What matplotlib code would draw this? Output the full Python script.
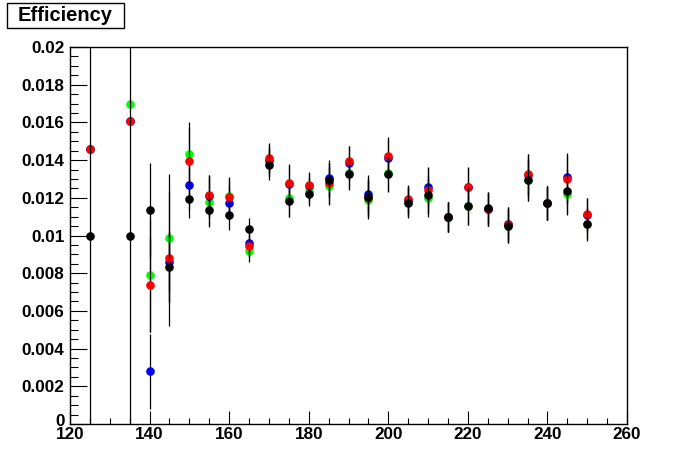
import matplotlib.pyplot as plt
import matplotlib.patches as patches
from matplotlib.ticker import MultipleLocator, FuncFormatter

# Data (mass points and efficiencies for four samples)
x = [125, 135, 140, 145, 150, 155, 160, 165, 170, 175, 180, 185, 190,
     195, 200, 205, 210, 215, 220, 225, 230, 235, 240, 245, 250]

eff_green = [0.0146, 0.0170, 0.0079, 0.00985, 0.0143, 0.0118, 0.0121, 0.0092,
             0.0139, 0.0120, 0.01236, 0.01263, 0.01333, 0.01188, 0.01333, 0.0118,
             0.0120, 0.0110, 0.01155, 0.01138, 0.0105, 0.01294, 0.0117, 0.0122, 0.0106]
err_green = [0, 0, 0.0030, 0.0034, 0.0017, 0.0013, 0.0010, 0.0006,
             0.0008, 0.0010, 0.0007, 0.0010, 0.0009, 0.0010, 0.0010, 0.0008,
             0.0010, 0.0008, 0.0010, 0.0009, 0.0009, 0.0011, 0.0009, 0.0011, 0.0009]

eff_blue = [0.0146, 0.0161, 0.0028, 0.0086, 0.01266, 0.0121, 0.01171, 0.00962,
            0.0140, 0.01272, 0.0126, 0.01303, 0.01386, 0.01222, 0.01411, 0.0119,
            0.01259, 0.0110, 0.01256, 0.0114, 0.0106, 0.0132, 0.0117, 0.0131, 0.0111]
err_blue = [0, 0, 0.0020, 0.00155, 0.0013, 0.0011, 0.0009, 0.0007,
            0.0008, 0.0010, 0.0007, 0.0010, 0.0009, 0.0010, 0.0010, 0.0008,
            0.0010, 0.0008, 0.0010, 0.0009, 0.0009, 0.0011, 0.0009, 0.0013, 0.0009]

eff_red = [0.0146, 0.0161, 0.00736, 0.00879, 0.01394, 0.01213, 0.01206, 0.00944,
           0.0141, 0.0128, 0.01268, 0.01277, 0.01397, 0.0120, 0.01422, 0.01192,
           0.01241, 0.0110, 0.01256, 0.0114, 0.0106, 0.01325, 0.0117, 0.01298, 0.01112]
err_red = [0, 0, 0.0025, 0.00357, 0.0018, 0.0011, 0.0010, 0.0006,
           0.0008, 0.0010, 0.0007, 0.0011, 0.0008, 0.0010, 0.0010, 0.0007,
           0.0012, 0.0008, 0.0011, 0.0009, 0.0009, 0.0011, 0.0009, 0.0013, 0.00085]

eff_black = [0.0100, 0.0100, 0.01134, 0.00833, 0.01192, 0.01135, 0.01109, 0.01033,
             0.01374, 0.01183, 0.01219, 0.01294, 0.01326, 0.01203, 0.01326, 0.01171,
             0.01213, 0.01097, 0.01155, 0.01144, 0.01049, 0.01294, 0.01171, 0.01234, 0.01059]
err_black = [0.0100, 0.0100, 0.0025, 0.0019, 0.0010, 0.0009, 0.0008, 0.0006,
             0.0008, 0.00085, 0.0006, 0.0009, 0.0008, 0.0010, 0.0009, 0.0008,
             0.0010, 0.0008, 0.0010, 0.0008, 0.0009, 0.0011, 0.00087, 0.0012, 0.0008]

plt.rcParams['font.family'] = ['Liberation Sans', 'DejaVu Sans']
plt.rcParams['font.weight'] = 'bold'

fig = plt.figure(figsize=(6.96, 4.72), dpi=100)
ax = fig.add_axes([70 / 696, 48 / 472, 557 / 696, 377 / 472])

series = [
    (eff_green, err_green, '#00ff00'),
    (eff_blue, err_blue, '#0000ff'),
    (eff_red, err_red, '#ff0000'),
    (eff_black, err_black, 'black'),
]
for i, (y, e, col) in enumerate(series):
    ax.errorbar(x, y, yerr=e, fmt='o', color=col, ecolor='black',
                markersize=6.2, markeredgewidth=0, elinewidth=0.9,
                capsize=2.6, capthick=0.9, zorder=3 + i)

ax.set_xlim(120, 260)
ax.set_ylim(0, 0.02)

ax.xaxis.set_major_locator(MultipleLocator(20))
ax.xaxis.set_minor_locator(MultipleLocator(5))
ax.yaxis.set_major_locator(MultipleLocator(0.002))
ax.yaxis.set_minor_locator(MultipleLocator(0.0005))
# "0" is drawn separately below, lifted a bit like ROOT does
ax.yaxis.set_major_formatter(FuncFormatter(
    lambda v, p: '' if abs(v) < 1e-9 else '%g' % round(v, 6)))

ax.tick_params(axis='y', which='major', direction='in', length=12, width=0.8,
               labelsize=12.3, pad=4)
ax.tick_params(axis='y', which='minor', direction='in', length=5.5, width=0.8)
ax.tick_params(axis='x', which='major', direction='in', length=9.5, width=0.8,
               labelsize=12.3, pad=2)
ax.tick_params(axis='x', which='minor', direction='in', length=4.5, width=0.8)
for s in ax.spines.values():
    s.set_linewidth(1.0)

ax.annotate('0', xy=(0, 0), xycoords='axes fraction', xytext=(-5, 3),
            textcoords='offset pixels', ha='right', va='center',
            fontsize=12.3, fontweight='bold')

# title box in ROOT style
fig.patches.append(patches.Rectangle((7 / 696, 1 - 28 / 472), 117 / 696, 25 / 472,
                                     transform=fig.transFigure, facecolor='white',
                                     edgecolor='black', linewidth=1.0))
fig.text(65.5 / 696, 1 - 15.5 / 472, 'Efficiency', ha='center', va='center',
         fontsize=14.5, fontweight='bold')

fig.savefig('out.png', dpi=100)
